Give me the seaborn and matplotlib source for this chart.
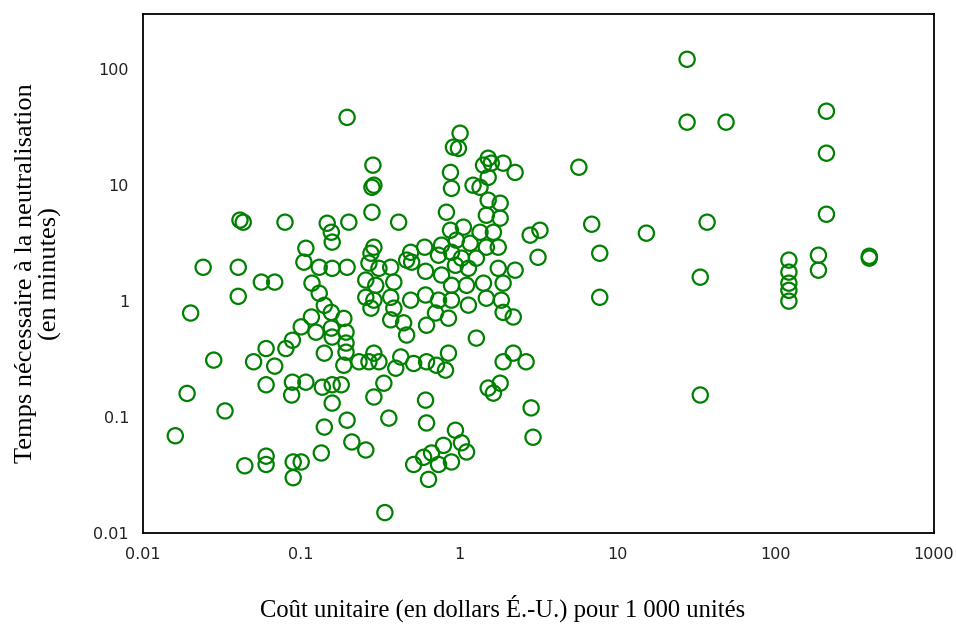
import matplotlib
matplotlib.use("Agg")
import matplotlib.pyplot as plt
import seaborn as sns
import pandas as pd
import numpy as np

# Unit cost (US$ per 1000 units)
cost = [
    0.016, 0.020, 0.019, 0.024, 0.028, 0.033, 0.041, 0.043, 0.040, 0.040,
    0.044, 0.050, 0.056, 0.068, 0.060, 0.080, 0.068, 0.060, 0.088, 0.087,
    0.060, 0.060, 0.089, 0.089, 0.079, 0.088, 0.10, 0.107,
    0.146, 0.20, 0.413, 0.155, 0.157, 0.107, 0.288, 0.276, 0.492, 0.603,
    0.104, 0.130, 0.157, 0.195, 0.268, 0.310, 0.368, 0.464, 0.499, 0.611,
    0.117, 0.256, 0.296, 0.385, 0.130, 0.256, 0.288, 0.368, 0.492, 0.276,
    0.385, 0.140, 0.116, 0.155, 0.186, 0.368, 0.444, 0.10, 0.124, 0.155,
    0.192, 0.464, 0.157, 0.192, 0.288, 0.192, 0.426,
    0.195, 0.284, 0.288, 0.280, 0.280,
    0.140, 0.186, 0.232, 0.268, 0.310, 0.396, 0.514, 0.136, 0.157, 0.179,
    0.333, 0.288, 0.157, 0.611, 0.195, 0.140, 0.358, 0.209, 0.256, 0.134,
    0.514, 0.620, 0.338,
    1.01, 0.917, 0.986, 1.52, 1.42, 1.59, 1.89, 2.25, 1.52, 0.878,
    0.891, 1.22, 1.35, 1.52, 1.81, 0.828, 1.48, 1.81, 0.878, 1.06,
    1.35, 1.64, 2.80, 3.23, 0.771, 0.957, 1.17, 1.48, 1.76, 3.14,
    0.738, 0.891, 1.03, 1.28, 0.944, 1.14, 1.76, 2.25, 0.771, 1.42,
    1.89, 0.891, 1.11, 0.611, 0.738, 0.891, 1.14, 1.48, 1.84, 0.706,
    0.853, 0.620, 1.89, 2.19, 1.28, 0.853, 2.19, 1.89, 2.64, 0.620,
    0.716, 0.817, 1.52, 1.81, 1.64, 2.84, 0.944, 2.92, 0.793, 1.03,
    1.11, 0.667, 0.891, 0.738, 0.594, 0.638,
    27.5, 27.5, 48.5, 209, 209, 5.69, 209, 6.86, 15.2, 36.8,
    7.71, 33.3, 7.71, 121, 121, 121, 121, 121, 186, 186,
    390, 390, 33.3,
]

# Time needed for neutralisation (minutes)
minutes = [
    0.069, 0.79, 0.16, 1.96, 0.31, 0.113, 5.0, 4.8, 1.96, 1.10,
    0.038, 0.30, 1.46, 1.46, 0.39, 0.39, 0.275, 0.19, 0.20, 0.155,
    0.046, 0.039, 0.041, 0.030, 4.8, 0.46, 0.041, 0.20,
    4.7, 4.8, 4.8, 3.93, 3.23, 2.86, 2.92, 2.59, 2.64, 2.92,
    2.17, 1.96, 1.92, 1.96, 2.13, 1.92, 1.96, 2.26, 2.17, 1.81,
    1.43, 1.52, 1.37, 1.46, 1.17, 1.08, 1.02, 1.08, 1.02, 0.87,
    0.87, 0.92, 0.73, 0.80, 0.71, 0.69, 0.65, 0.60, 0.54, 0.585,
    0.54, 0.51, 0.49, 0.435, 0.356, 0.363, 0.33,
    38.5, 14.9, 10.0, 9.6, 5.85,
    0.356, 0.28, 0.30, 0.30, 0.30, 0.264, 0.29, 0.181, 0.19, 0.19,
    0.196, 0.149, 0.132, 0.14, 0.094, 0.082, 0.098, 0.061, 0.052, 0.049,
    0.039, 0.089, 0.015,
    28.1, 21.3, 20.8, 17.1, 14.9, 15.5, 15.5, 12.9, 11.7, 12.9,
    9.4, 10.0, 9.6, 7.43, 7.0, 5.85, 5.51, 5.2, 4.09, 4.35,
    3.93, 3.93, 3.71, 4.09, 3.04, 3.36, 3.16, 2.92, 2.92, 2.39,
    2.49, 2.64, 2.35, 2.35, 2.04, 1.92, 1.92, 1.85, 1.68, 1.43,
    1.43, 1.37, 1.37, 1.13, 1.02, 1.02, 0.924, 1.06, 1.02, 0.79,
    0.713, 0.62, 0.80, 0.73, 0.48, 0.356, 0.356, 0.30, 0.30, 0.30,
    0.28, 0.254, 0.178, 0.196, 0.161, 0.12, 0.077, 0.067, 0.057, 0.060,
    0.050, 0.049, 0.041, 0.039, 0.045, 0.029,
    122, 35, 35, 43.5, 18.9, 14.3, 5.62, 4.61, 3.86, 4.8,
    2.59, 1.61, 1.08, 2.26, 1.78, 1.43, 1.24, 1.0, 2.49, 1.85,
    2.44, 2.35, 0.155,
]

x_ticks = [0.01, 0.1, 1, 10, 100, 1000]
x_tick_labels = ["0.01", "0.1", "1", "10", "100", "1000"]
y_ticks = [0.01, 0.1, 1, 10, 100]
y_tick_labels = ["0.01", "0.1", "1", "10", "100"]

x_label = "Coût unitaire (en dollars É.-U.) pour 1 000 unités"
y_label = "Temps nécessaire à la neutralisation\n(en minutes)"

df = pd.DataFrame({"cost": cost, "minutes": minutes})

sns.set_style("white")
plt.rcParams["font.family"] = ["DejaVu Sans"]

fig = plt.figure(figsize=(9.56, 6.26), dpi=100)
ax = fig.add_axes([143 / 956, 93 / 626, 791 / 956, 519 / 626])

green = "#008000"
sns.scatterplot(data=df, x="cost", y="minutes", ax=ax, marker="o", s=120,
                facecolors="none", edgecolor=green, linewidth=1.6, legend=False)

ax.set_xscale("log")
ax.set_yscale("log")
ax.set_xlim(0.01, 1000)
ax.set_ylim(0.01, 300)
ax.set_xticks(x_ticks)
ax.set_xticklabels(x_tick_labels)
ax.set_yticks(y_ticks)
ax.set_yticklabels(y_tick_labels)
ax.minorticks_off()
ax.tick_params(axis="both", direction="out", length=6, width=1.2, color="black",
               labelsize=11.5, labelcolor="#222222", pad=4)

for sp in ax.spines.values():
    sp.set_color("black")
    sp.set_linewidth(1.3)

serif = ["Liberation Serif", "DejaVu Serif"]
ax.set_xlabel(x_label, family=serif, fontsize=17.7, color="black")
ax.set_ylabel(y_label, family=serif, fontsize=19, color="black", linespacing=1.15)
ax.xaxis.set_label_coords(0.455, -0.118)
ax.yaxis.set_label_coords(-0.102, 0.5)

fig.savefig("out.png", dpi=100, facecolor="white")
